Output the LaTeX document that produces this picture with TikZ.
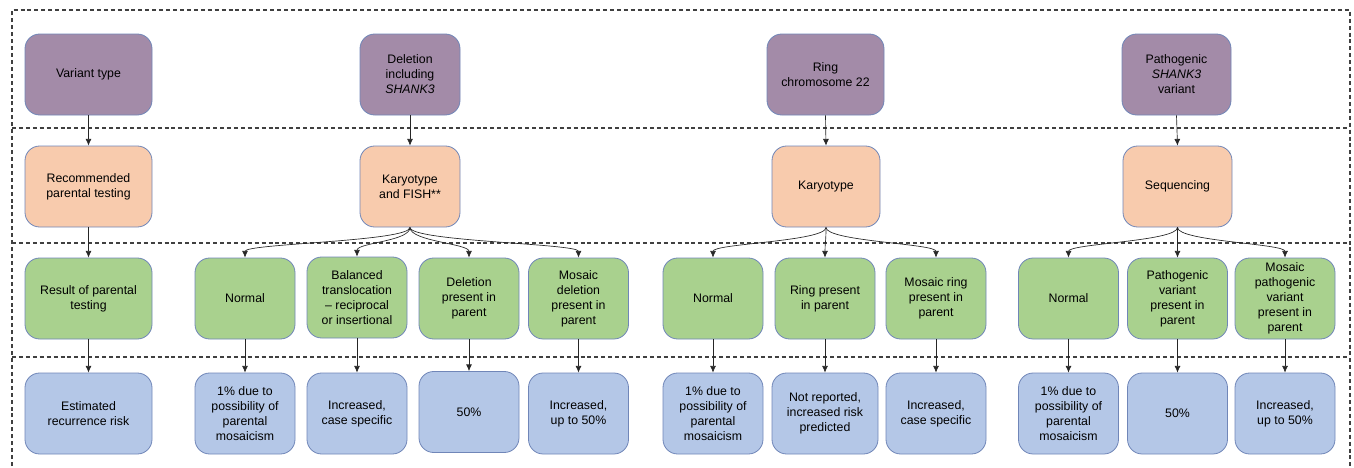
\documentclass[tikz,border=0pt]{standalone}
\usepackage{fontspec}
\setmainfont{Liberation Sans}
\usetikzlibrary{arrows.meta,positioning}
\definecolor{typecol}{RGB}{163,139,168}
\definecolor{testcol}{RGB}{248,203,173}
\definecolor{resultcol}{RGB}{169,209,142}
\definecolor{riskcol}{RGB}{180,199,231}
\definecolor{edgecol}{RGB}{112,134,184}
\tikzset{%
	box/.style       = {draw=edgecol, line width=0.6pt, rectangle, rounded corners=11pt, minimum height=60.75pt, inner sep=1pt, align=center, font=\fontsize{9.25}{11.25}\selectfont},
	typebox/.style   = {box, fill=typecol},
	testbox/.style   = {box, fill=testcol},
	resultbox/.style = {box, fill=resultcol, minimum width=75pt},
	riskbox/.style   = {box, fill=riskcol, minimum width=75pt},
	arrow/.style     = {draw=black!85, line width=0.5pt, -{Latex[length=5pt,width=4.5pt]}},
	band/.style      = {draw=black!75, line width=0.9pt, dash pattern=on 3pt off 2.2pt},
}

\begin{document}
\begin{tikzpicture}[x=0.75pt,y=-0.75pt]
	\useasboundingbox (0,0) rectangle (1354,468);
	
	% frame and rows
	\draw[band] (12,466) -- (12,10) -- (1350,10) -- (1350,466);
	\foreach \y in {128,243,357} \draw[band] (12,\y) -- (1350,\y);
	
	% variant type
	\node[typebox, minimum width=95.25pt] (var) at (88.5,74.5) {Variant type};
	\node[typebox, minimum width=75pt] (del) at (410,74.5) {Deletion\\including\\\textit{SHANK3}};
	\node[typebox, minimum width=87.75pt] (ring) at (825.5,74.5) {Ring\\chromosome 22};
	\node[typebox, minimum width=81.75pt] (path) at (1176.5,74.5) {Pathogenic\\\textit{SHANK3}\\variant};
	
	% parental testing
	\node[testbox, minimum width=95.25pt] (rec) at (88.5,186.5) {Recommended\\parental testing};
	\node[testbox, minimum width=75pt] (kfish) at (410,186.5) {Karyotype\\and FISH**};
	\node[testbox, minimum width=81pt] (kary) at (826,186.5) {Karyotype};
	\node[testbox, minimum width=81.75pt] (seq) at (1177.5,186.5) {Sequencing};
	
	% result of parental testing
	\node[resultbox, minimum width=95.25pt] (res) at (88.5,298.5) {Result of parental\\testing};
	\node[resultbox] (dnorm) at (245,298.5) {Normal};
	\node[resultbox] (dbal) at (357,297.5) {Balanced\\translocation\\– reciprocal\\or insertional};
	\node[resultbox] (dpres) at (469,298.5) {Deletion\\present in\\parent};
	\node[resultbox] (dmos) at (578.5,298.5) {Mosaic\\deletion\\present in\\parent};
	\node[resultbox] (rnorm) at (713,298.5) {Normal};
	\node[resultbox] (rpres) at (825,298.5) {Ring present\\in parent};
	\node[resultbox] (rmos) at (936,298.5) {Mosaic ring\\present in\\parent};
	\node[resultbox] (pnorm) at (1068.5,298.5) {Normal};
	\node[resultbox] (ppres) at (1177.5,298.5) {Pathogenic\\variant\\present in\\parent};
	\node[resultbox] (pmos) at (1285,298.5) {Mosaic\\pathogenic\\variant\\present in\\parent};
	
	% recurrence risk
	\node[riskbox, minimum width=95.25pt] (risk-res) at (88.5,413.5) {Estimated\\recurrence risk};
	\node[riskbox] (risk-dnorm) at (245,413.5) {1\% due to\\possibility of\\parental\\mosaicism};
	\node[riskbox] (risk-dbal) at (357,413.5) {Increased,\\case specific};
	\node[riskbox] (risk-dpres) at (469,412) {50\%};
	\node[riskbox] (risk-dmos) at (578.5,413.5) {Increased,\\up to 50\%};
	\node[riskbox] (risk-rnorm) at (713,413.5) {1\% due to\\possibility of\\parental\\mosaicism};
	\node[riskbox, minimum width=79.5pt] (risk-rpres) at (825,413.5) {Not reported,\\increased risk\\predicted};
	\node[riskbox] (risk-rmos) at (936,413.5) {Increased,\\case specific};
	\node[riskbox] (risk-pnorm) at (1068.5,413.5) {1\% due to\\possibility of\\parental\\mosaicism};
	\node[riskbox] (risk-ppres) at (1177.5,413.5) {50\%};
	\node[riskbox] (risk-pmos) at (1285,413.5) {Increased,\\up to 50\%};
	
	% arrows
	\foreach \a/\b in {var/rec,del/kfish,ring/kary,path/seq} \draw[arrow] (\a.south) -- (\b.north);
	
	\draw[arrow] (rec.south) -- (res.north);
	\foreach \a/\b in {kfish/dnorm,kfish/dbal,kfish/dpres,kfish/dmos,kary/rnorm,kary/rpres,kary/rmos,seq/pnorm,seq/ppres,seq/pmos}
		\draw[arrow] (\a.south) .. controls +(0,14) and +(0,-14) .. (\b.north);
	
	\foreach \a in {res,dnorm,dbal,dpres,dmos,rnorm,rpres,rmos,pnorm,ppres,pmos} \draw[arrow] (\a.south) -- (risk-\a.north);
\end{tikzpicture}
\end{document}
